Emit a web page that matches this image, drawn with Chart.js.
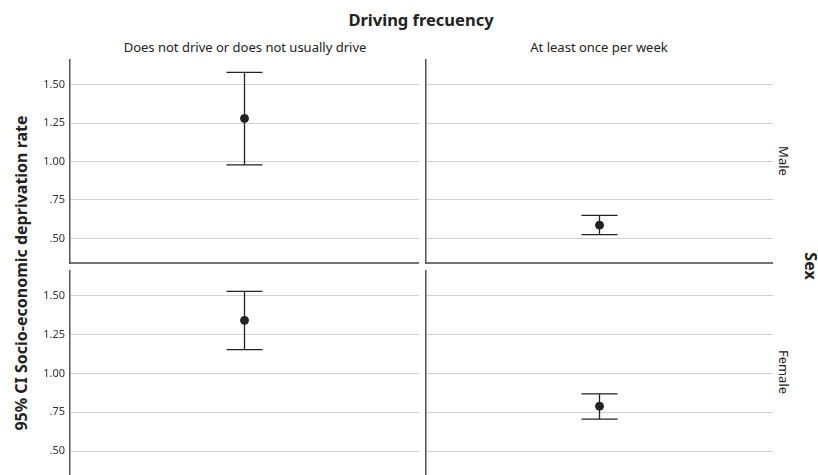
<!DOCTYPE html>
<html>
<head>
<meta charset="utf-8">
<script src="https://cdn.jsdelivr.net/npm/chart.js@4"></script>
<style>
  body { margin: 0; background: #fff; overflow: hidden; font-family: "Noto Sans", sans-serif; color: #222; }
  #wrap { position: relative; width: 818px; height: 475px; overflow: hidden; }
  #wrap canvas { position: absolute; }
  .lbl { position: absolute; white-space: nowrap; transform: translate(-50%, -50%); }
</style>
</head>
<body>
<div id="wrap">
  <div class="lbl" id="title" style="left:421px;top:19px;font-size:16.5px;font-weight:bold;"></div>
  <div class="lbl" id="col0" style="left:245px;top:47px;font-size:13px;"></div>
  <div class="lbl" id="col1" style="left:599px;top:47px;font-size:13px;"></div>
  <div class="lbl" id="ytitle" style="left:21px;top:273px;font-size:16px;font-weight:bold;transform:translate(-50%,-50%) rotate(-90deg);"></div>
  <div class="lbl" id="row0" style="left:784px;top:161px;font-size:13px;transform:translate(-50%,-50%) rotate(90deg);"></div>
  <div class="lbl" id="row1" style="left:784px;top:372px;font-size:13px;transform:translate(-50%,-50%) rotate(90deg);"></div>
  <div class="lbl" id="rowTitle" style="left:811px;top:266px;font-size:16px;font-weight:bold;transform:translate(-50%,-50%) rotate(90deg);"></div>
  <canvas id="p00" width="419" height="207" style="left:0;top:58px;"></canvas>
  <canvas id="p01" width="353" height="207" style="left:420px;top:58px;"></canvas>
  <canvas id="p10" width="419" height="209" style="left:0;top:269px;"></canvas>
  <canvas id="p11" width="353" height="209" style="left:420px;top:269px;"></canvas>
</div>
<script>
// Chart data
const chartTitle = 'Driving frecuency';
const yTitle = '95% CI Socio-economic deprivation rate';
const rowTitle = 'Sex';
const columns = ['Does not drive or does not usually drive', 'At least once per week'];
const rows = ['Male', 'Female'];

const meanMale = [1.28, 0.586];
const lowerMale = [0.978, 0.524];
const upperMale = [1.58, 0.65];

const meanFemale = [1.342, 0.789];
const lowerFemale = [1.154, 0.706];
const upperFemale = [1.529, 0.869];

const tickValues = [0.5, 0.75, 1.0, 1.25, 1.5];
const tickLabels = ['.50', '.75', '1.00', '1.25', '1.50'];
const yMin = 0.34, yMax = 1.66;

document.getElementById('title').textContent = chartTitle;
document.getElementById('ytitle').textContent = yTitle;
document.getElementById('rowTitle').textContent = rowTitle;
document.getElementById('col0').textContent = columns[0];
document.getElementById('col1').textContent = columns[1];
document.getElementById('row0').textContent = rows[0];
document.getElementById('row1').textContent = rows[1];

// draws the CI whisker behind the mean dot, plus the bottom frame line
const errorBarPlugin = {
  id: 'errorBars',
  beforeDatasetsDraw(chart, args, opts) {
    const { ctx, scales: { x, y } } = chart;
    const px = x.getPixelForValue(1);
    const top = y.getPixelForValue(opts.hi);
    const bot = y.getPixelForValue(opts.lo);
    ctx.save();
    ctx.strokeStyle = '#222';
    ctx.lineWidth = 1.3;
    ctx.beginPath();
    ctx.moveTo(px, top); ctx.lineTo(px, bot);
    ctx.moveTo(px - 18, top); ctx.lineTo(px + 18, top);
    ctx.moveTo(px - 18, bot); ctx.lineTo(px + 18, bot);
    ctx.stroke();
    ctx.restore();
  },
  afterDraw(chart) {
    const { ctx, chartArea } = chart;
    ctx.save();
    ctx.strokeStyle = '#444';
    ctx.lineWidth = 1.5;
    ctx.beginPath();
    ctx.moveTo(chartArea.left, chartArea.bottom);
    ctx.lineTo(chartArea.right, chartArea.bottom);
    ctx.stroke();
    ctx.restore();
  }
};

function makePanel(id, mean, lo, hi, showTicks, yWidth) {
  new Chart(document.getElementById(id), {
    type: 'scatter',
    data: {
      datasets: [{
        data: [{ x: 1, y: mean }],
        pointRadius: 4,
        backgroundColor: '#222',
        borderColor: '#222'
      }]
    },
    options: {
      responsive: false,
      animation: false,
      events: [],
      layout: { autoPadding: false, padding: { top: 2, bottom: 2, left: 0, right: 0 } },
      plugins: {
        legend: { display: false },
        tooltip: { enabled: false },
        errorBars: { lo: lo, hi: hi }
      },
      scales: {
        x: { type: 'linear', min: 0, max: 2, display: false },
        y: {
          min: yMin,
          max: yMax,
          afterBuildTicks: s => { s.ticks = tickValues.map(v => ({ value: v })); },
          afterFit: s => { s.width = yWidth; s.paddingTop = 0; s.paddingBottom = 0; },
          grid: { color: '#d2d2d2', drawTicks: false, lineWidth: 1 },
          border: { display: true, color: '#555', width: 1.5 },
          ticks: {
            display: showTicks,
            padding: 5,
            color: '#333',
            font: { family: 'Noto Sans', size: 11 },
            callback: (v, i) => tickLabels[i]
          }
        }
      }
    },
    plugins: [errorBarPlugin]
  });
}

makePanel('p00', meanMale[0], lowerMale[0], upperMale[0], true, 70);
makePanel('p01', meanMale[1], lowerMale[1], upperMale[1], false, 6);
makePanel('p10', meanFemale[0], lowerFemale[0], upperFemale[0], true, 70);
makePanel('p11', meanFemale[1], lowerFemale[1], upperFemale[1], false, 6);
</script>
</body>
</html>
